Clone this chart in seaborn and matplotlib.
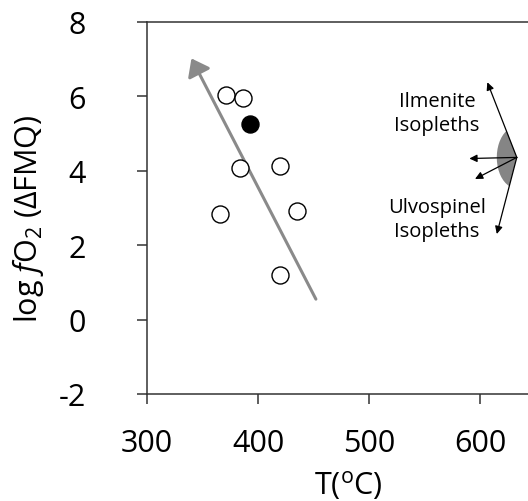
import matplotlib
matplotlib.use("Agg")
import matplotlib.pyplot as plt
from matplotlib.patches import Wedge
from matplotlib.transforms import ScaledTranslation, Affine2D
import seaborn as sns
import pandas as pd

# ---- data ----
temp_open = [371, 386, 384, 420, 366, 435, 420]
fo2_open = [6.05, 5.96, 4.08, 4.14, 2.84, 2.93, 1.21]
temp_filled = [393]
fo2_filled = [5.26]

trend_T = [452, 340]
trend_fo2 = [0.55, 7.02]

iso_origin = (632.8, 4.36)
iso_end_T = [606.3, 590.1, 595.2, 614.8]
iso_end_fo2 = [6.38, 4.33, 3.78, 2.30]

x_ticks = [300, 400, 500, 600]
y_ticks = [-2, 0, 2, 4, 6, 8]

sns.set_style("ticks")
plt.rcParams["font.family"] = ["Open Sans", "DejaVu Sans"]
plt.rcParams["mathtext.fontset"] = "custom"
plt.rcParams["mathtext.rm"] = "Open Sans"
plt.rcParams["mathtext.it"] = "Open Sans:italic"
plt.rcParams["text.color"] = "black"
plt.rcParams["axes.labelcolor"] = "black"

fig = plt.figure(figsize=(5.28, 5.02), dpi=100)
ax = fig.add_axes([147 / 528, 1 - 395 / 502, 388.9 / 528, 372 / 502])

df_open = pd.DataFrame({"T": temp_open, "fo2": fo2_open})
df_fill = pd.DataFrame({"T": temp_filled, "fo2": fo2_filled})

ax.set_xlim(300, 650)
ax.set_ylim(-2, 8)

# trend arrow
ax.annotate("", xy=(trend_T[1], trend_fo2[1]), xytext=(trend_T[0], trend_fo2[0]),
            arrowprops=dict(arrowstyle="-|>,head_length=1.0,head_width=0.75",
                            mutation_scale=10, color="#8a8a8a", lw=2.2,
                            shrinkA=0, shrinkB=0), zorder=2)

sns.scatterplot(data=df_open, x="T", y="fo2", ax=ax, s=150, color="white",
                edgecolor="black", linewidth=1.0, zorder=3)
sns.scatterplot(data=df_fill, x="T", y="fo2", ax=ax, s=150, color="black",
                edgecolor="black", linewidth=1.0, zorder=3)

# isopleth wedge (elliptical sector between the outer isopleth arrows)
off = ScaledTranslation(iso_origin[0], iso_origin[1], ax.transData)
w = Wedge((0, 0), 1.0, 120.7, 247.5,
          transform=Affine2D().scale(0.20, 0.31) + fig.dpi_scale_trans + off,
          facecolor="#858585", edgecolor="none", zorder=2)
ax.add_patch(w)
for tx, ty in zip(iso_end_T, iso_end_fo2):
    ax.annotate("", xy=(tx, ty), xytext=iso_origin,
                arrowprops=dict(arrowstyle="-|>,head_length=0.45,head_width=0.22",
                                mutation_scale=10, color="black", lw=0.9,
                                shrinkA=0, shrinkB=0), zorder=4)

ax.text(561, 5.55, "Ilmenite\nIsopleths", ha="center", va="center",
        fontsize=14.5, multialignment="center", linespacing=1.3, color="black")
ax.text(561, 2.70, "Ulvospinel\nIsopleths", ha="center", va="center",
        fontsize=14.5, multialignment="center", linespacing=1.3, color="black")

ax.set_xticks(x_ticks)
ax.set_yticks(y_ticks)
ax.set_xticklabels([str(v) for v in x_ticks])
ax.set_yticklabels([str(v) for v in y_ticks])

for side in ["left", "bottom", "top"]:
    ax.spines[side].set_color("#333333")
    ax.spines[side].set_linewidth(1.1)
ax.spines["right"].set_visible(False)
ax.tick_params(axis="both", direction="out", length=7.2, width=1.1,
               color="#333333", labelsize=22, labelcolor="black")
ax.tick_params(axis="x", pad=17)
ax.tick_params(axis="y", pad=37)

ax.set_xlabel(r"T($^{\mathrm{o}}$C)", fontsize=22)
ax.set_ylabel(r"log $\mathit{f}$O$_2$ (ΔFMQ)", fontsize=22)
ax.xaxis.set_label_coords(0.517, -0.198)
ax.yaxis.set_label_coords(-0.26, 0.473)

fig.savefig("out.png", dpi=100)
